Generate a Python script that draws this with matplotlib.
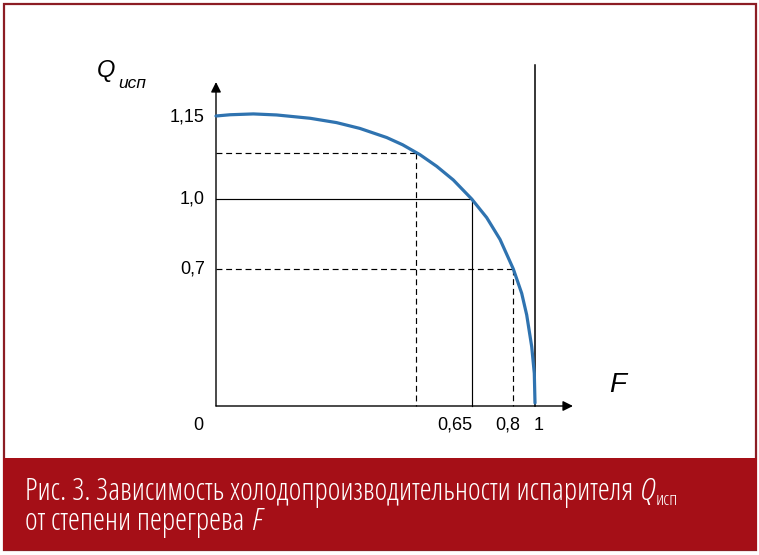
import matplotlib

matplotlib.use("Agg")
import matplotlib.pyplot as plt
from matplotlib import font_manager
from matplotlib.font_manager import FontProperties
from matplotlib.patches import Rectangle

# curve of Q_исп vs F (schematic positions: F=1 at the limit line, Q=1 at the "1,0" level)
F_curve = [0.0, 0.044, 0.117, 0.190, 0.295, 0.378, 0.451, 0.535, 0.585, 0.6395, 0.6918,
           0.7439, 0.8016, 0.8486, 0.8903, 0.932, 0.9583, 0.974, 0.9897, 0.9978, 1.0]
Q_curve = [1.401, 1.407, 1.411, 1.406, 1.390, 1.369, 1.341, 1.297, 1.262, 1.214, 1.158,
           1.092, 1.0, 0.910, 0.805, 0.662, 0.5444, 0.440, 0.2865, 0.158, 0.0145]

# reading lines dropped from the curve to the axes
guide_F = [0.628, 0.804, 0.931]
guide_Q = [1.222, 1.0, 0.662]
guide_dashed = [True, False, True]

x_tick_pos = [0.804, 0.931, 1.0]
x_tick_labels = ["0,65", "0,8", "1"]
y_tick_pos = [1.396, 1.0, 0.662]
y_tick_labels = ["1,15", "1,0", "0,7"]

caption_1 = "Рис. 3. Зависимость холодопроизводительности испарителя "
caption_2 = "от степени перегрева "

W, H = 759, 555
X0, XS = 216, 319   # pixel of F=0 and pixels per unit
Y0, YS = 406, 207   # pixel row of Q=0 and pixels per unit


def pick_caption_font(italic=False):
    """Look for a condensed sans face with Cyrillic; light weight preferred."""
    order = ["Noto Sans", "Open Sans", "Roboto", "DejaVu Sans", "Liberation Sans"]
    best, best_score = None, None
    for f in font_manager.fontManager.ttflist:
        low = (f.name + " " + f.fname).lower()
        narrow = ("condensed" in str(f.stretch).lower() or "condensed" in low
                  or "narrow" in low)
        if not narrow or "extra" in low or "ultra" in low:
            continue
        fam = next((i for i, o in enumerate(order) if f.name.startswith(o)), None)
        if fam is None:
            continue
        if (f.style != "normal") != italic:
            continue
        w = f.weight if isinstance(f.weight, int) else 400
        score = ("semi" not in low, abs(w - 300), fam)
        if best_score is None or score < best_score:
            best, best_score = f, score
    if best is None:
        return FontProperties(family="Roboto", weight="light",
                              style="italic" if italic else "normal")
    return FontProperties(fname=best.fname)


plt.rcParams["font.family"] = ["Liberation Sans", "DejaVu Sans"]

fig = plt.figure(figsize=(W / 100, H / 100), dpi=100)
fig.patch.set_facecolor("white")

# frame and red caption band, kept under the drawing
border = "#8c1d24"
band = "#a50f17"
fig.add_artist(Rectangle((4 / W, 1 - 550 / H), 752 / W, 546 / H, transform=fig.transFigure,
                         facecolor="white", edgecolor=border, lw=1.6, zorder=-3))
fig.add_artist(Rectangle((3 / W, 1 - 550 / H), 754 / W, 92 / H, transform=fig.transFigure,
                         facecolor=band, edgecolor="none", zorder=-2))

ax = fig.add_axes([0, 0, 1, 1])
ax.set_xlim(-X0 / XS, (W - X0) / XS)
ax.set_ylim((Y0 - H) / YS, Y0 / YS)
ax.axis("off")

# axes with arrows
arrow = dict(arrowstyle="-|>", color="black", lw=1.0, mutation_scale=15, shrinkA=0, shrinkB=0)
ax.annotate("", xy=(0, 1.565), xytext=(0, 0), arrowprops=arrow)
ax.annotate("", xy=(1.119, 0), xytext=(0, 0), arrowprops=arrow)

# limit line F = 1
ax.plot([1.0, 1.0], [0, 1.647], color="black", lw=1.1)

for f, q, dashed in zip(guide_F, guide_Q, guide_dashed):
    ls = (0, (5, 3.2)) if dashed else "-"
    ax.plot([0, f], [q, q], color="black", lw=0.85, ls=ls)
    ax.plot([f, f], [q, 0], color="black", lw=0.85, ls=ls)

ax.plot(F_curve, Q_curve, color="#2f73b0", lw=2.3, solid_capstyle="round",
        solid_joinstyle="round", zorder=5)

# tick labels
ax.annotate("0", xy=(0, 0), xytext=(-13, -14), textcoords="offset points",
            ha="center", va="center", fontsize=13)
x_ha = ["right", "right", "left"]
x_dx = [0, 5, -1]
for pos, lab, ha, dx in zip(x_tick_pos, x_tick_labels, x_ha, x_dx):
    ax.annotate(lab, xy=(pos, 0), xytext=(dx, -14), textcoords="offset points",
                ha=ha, va="center", fontsize=13)
for pos, lab in zip(y_tick_pos, y_tick_labels):
    ax.annotate(lab, xy=(0, pos), xytext=(-8, 0), textcoords="offset points",
                ha="right", va="center", fontsize=13)

# axis titles
ax.text((97 - X0) / XS, (Y0 - 77) / YS, "Q", fontsize=17, style="italic", va="baseline")
ax.text((118 - X0) / XS, (Y0 - 88) / YS, "исп", fontsize=12.5, style="italic", va="baseline")
ax.text((609 - X0) / XS, (Y0 - 392) / YS, "F", fontsize=20, style="italic", va="baseline")

# caption: pieces placed one after another in pixels
renderer = fig.canvas.get_renderer()
fp = pick_caption_font()
fpi = pick_caption_font(italic=True)


def put(x, y, s, size, prop):
    prop = prop.copy()
    prop.set_size(size)
    t = fig.text(x / W, 1 - y / H, s, color="white", va="baseline", fontproperties=prop)
    return t, t.get_window_extent(renderer)


t1, bb = put(25, 500, caption_1, 18, fp)
size = min(22.0, 18 * (692 - 25) / bb.width)
t1.remove()
t1, bb = put(25, 500, caption_1, size, fp)
tq, bq = put(bb.x1 + 1, 500, "Q", size * 1.05, fpi)
put(bq.x1 + 1, 505, "исп", size * 0.62, fp)
t2, b2 = put(25, 530, caption_2, size, fp)
put(b2.x1 + 1, 530, "F", size, fpi)

fig.savefig("out.png", dpi=100)
